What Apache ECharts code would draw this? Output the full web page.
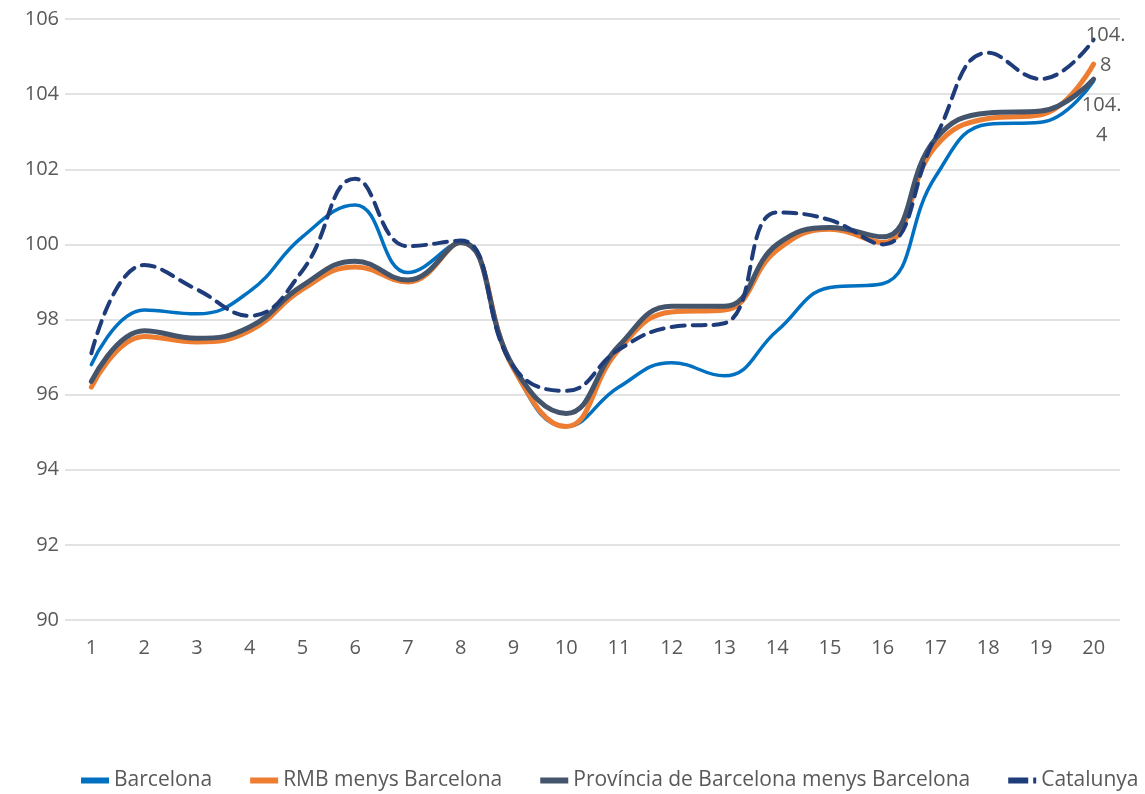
<!DOCTYPE html>
<html>
<head>
<meta charset="utf-8">
<title>Índex</title>
<script src="https://cdn.jsdelivr.net/npm/echarts@6/dist/echarts.min.js"></script>
<style>
    html, body { margin: 0; padding: 0; background: #fff; }
    #main { width: 1145px; height: 794px; }
</style>
</head>
<body>
<div id="main"></div>
<script>
// eix X
var categories = ['1', '2', '3', '4', '5', '6', '7', '8', '9', '10',
    '11', '12', '13', '14', '15', '16', '17', '18', '19', '20'];

// sèries
var barcelona = [96.8, 98.25, 98.15, 98.75, 100.2, 101.05, 99.25, 100.05, 96.7, 95.15,
    96.2, 96.85, 96.5, 97.7, 98.85, 98.95, 101.8, 103.2, 103.25, 104.35];
var rmbMenysBcn = [96.2, 97.55, 97.4, 97.7, 98.8, 99.4, 99.0, 100.05, 96.7, 95.15,
    97.2, 98.2, 98.25, 99.85, 100.4, 100.05, 102.6, 103.35, 103.45, 104.8];
var provMenysBcn = [96.35, 97.7, 97.5, 97.8, 98.9, 99.55, 99.05, 100.05, 96.75, 95.5,
    97.3, 98.35, 98.35, 100.0, 100.45, 100.2, 102.8, 103.5, 103.55, 104.4];
var catalunya = [97.1, 99.45, 98.8, 98.1, 99.3, 101.75, 99.95, 100.1, 96.75, 96.1,
    97.2, 97.8, 97.9, 100.85, 100.65, 100.0, 102.85, 105.1, 104.4, 105.45];

var seriesNames = ['Barcelona', 'RMB menys Barcelona', 'Província de Barcelona menys Barcelona', 'Catalunya'];

var textColor = '#595959';
var fontFamily = 'Open Sans';

// només l'últim punt porta etiqueta
function lastLabel(arr, offset) {
    return arr.map(function (v, i) {
        if (i !== arr.length - 1) return v;
        return {
            value: v,
            label: {
                show: true,
                position: 'inside',
                offset: offset,
                width: 42,
                overflow: 'breakAll',
                align: 'center',
                lineHeight: 30,
                color: textColor,
                fontSize: 20,
                fontFamily: fontFamily
            }
        };
    });
}

function lineSeries(name, data, color, width, type) {
    return {
        name: name,
        type: 'line',
        smooth: 0.45,
        symbol: 'circle',
        symbolSize: 0,
        showSymbol: true,
        data: data,
        itemStyle: { color: color },
        lineStyle: { color: color, width: width, type: type || 'solid', cap: 'round' }
    };
}

var chart = echarts.init(document.getElementById('main'));
var option = {
    animation: false,
    grid: { left: 65, right: 25, top: 19, bottom: 174 },
    legend: {
        data: [
            { name: seriesNames[0], icon: 'rect' },
            { name: seriesNames[1], icon: 'rect' },
            { name: seriesNames[2], icon: 'rect' },
            { name: seriesNames[3], icon: 'path://M0,0H20V6H0Z M25,0H28V6H25Z' }
        ],
        left: 76,
        top: 765,
        itemWidth: 28,
        itemHeight: 6,
        itemGap: 38,
        textStyle: { color: textColor, fontSize: 21, fontFamily: fontFamily }
    },
    xAxis: {
        type: 'category',
        data: categories,
        boundaryGap: true,
        axisLine: { show: false },
        axisTick: { show: false },
        axisLabel: { color: textColor, fontSize: 20, fontFamily: fontFamily, margin: 18 }
    },
    yAxis: {
        type: 'value',
        min: 90,
        max: 106,
        interval: 2,
        axisLine: { show: false },
        axisTick: { show: false },
        axisLabel: { color: textColor, fontSize: 20, fontFamily: fontFamily, margin: 6 },
        splitLine: { lineStyle: { color: '#d9d9d9', width: 1.5 } }
    },
    series: [
        lineSeries(seriesNames[0], barcelona, '#0070C0', 3.5),
        lineSeries(seriesNames[1], lastLabel(rmbMenysBcn, [12, -14]), '#ED7D31', 5),
        lineSeries(seriesNames[2], lastLabel(provMenysBcn, [8, 41]), '#44546A', 5),
        lineSeries(seriesNames[3], catalunya, '#1F3C7A', 4, [13, 8])
    ]
};
chart.setOption(option);
</script>
</body>
</html>
